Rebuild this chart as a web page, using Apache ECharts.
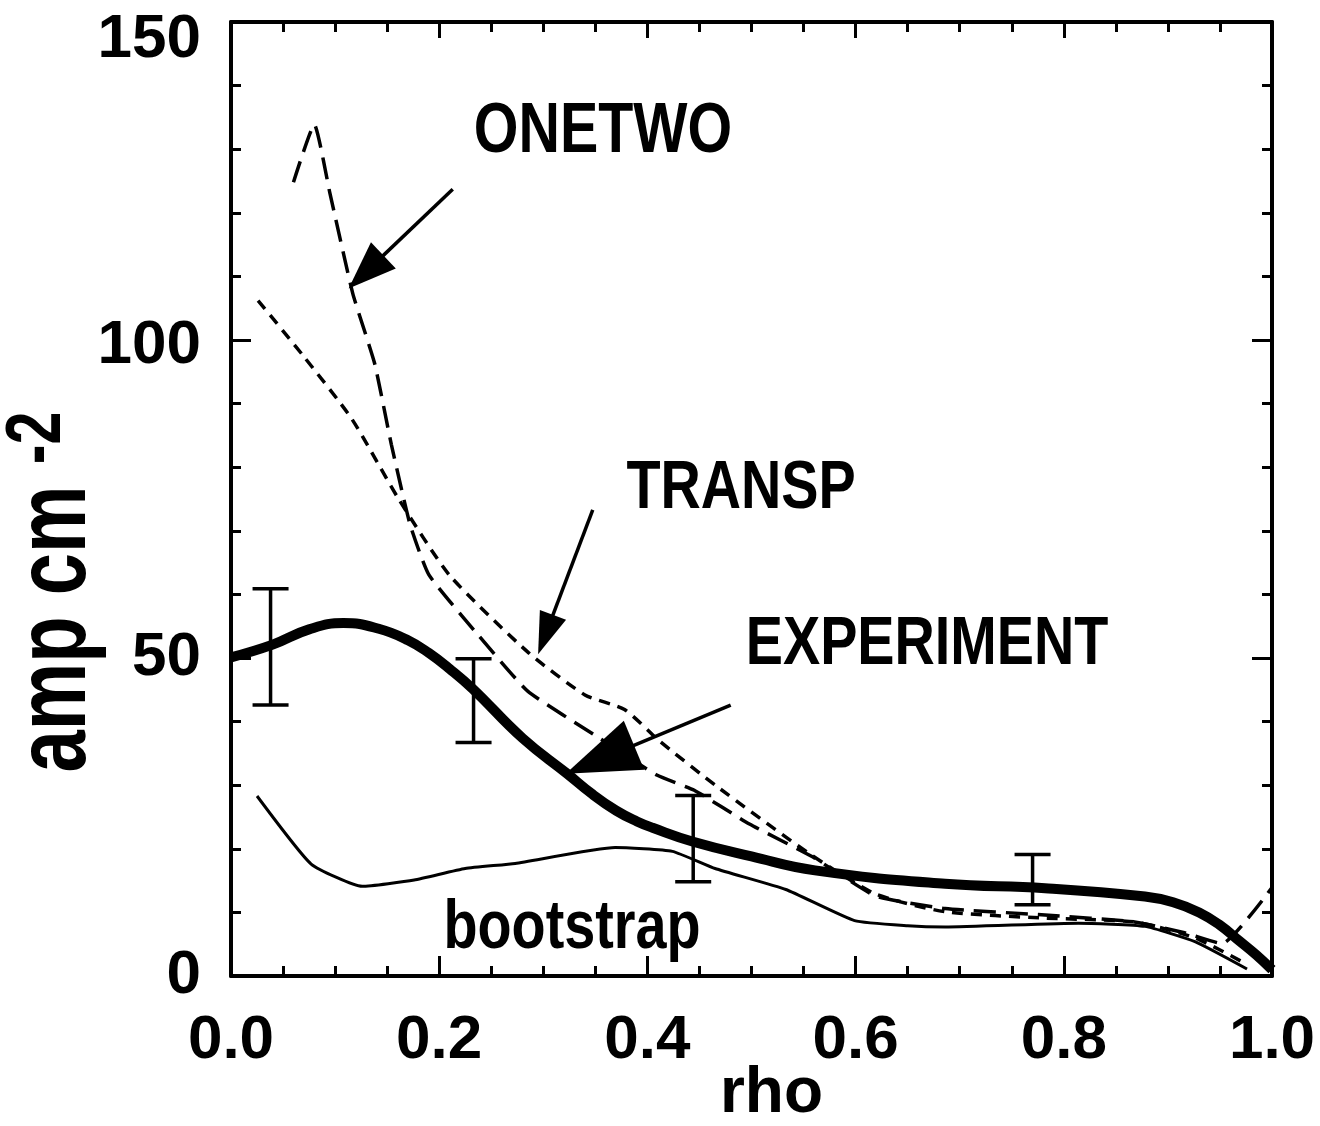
<!DOCTYPE html>
<html>
<head>
<meta charset="utf-8">
<script src="https://cdn.jsdelivr.net/npm/echarts@6/dist/echarts.min.js"></script>
<style>
  html, body { margin: 0; padding: 0; background: #fff; }
  #chart { width: 1320px; height: 1126px; }
</style>
</head>
<body>
<div id="chart"></div>
<script>
// Current density profiles versus normalised radius rho (amp cm^-2)
const expRho   = [0, 0.04, 0.075, 0.108, 0.142, 0.17, 0.19, 0.21, 0.232, 0.28, 0.323, 0.347, 0.37, 0.39, 0.405, 0.444, 0.50, 0.561, 0.686, 0.782, 0.878, 0.905, 0.93, 0.95, 0.968, 0.985, 1.0];
const expVal   = [50.1, 52.1, 54.5, 55.5, 54.6, 52.8, 50.8, 48.3, 45.2, 37.4, 31.8, 28.6, 26.0, 24.3, 23.3, 21.1, 18.8, 16.6, 14.5, 13.8, 12.5, 11.6, 10.0, 8.0, 5.6, 3.3, 1.0];

const bootRho  = [0.025, 0.077, 0.126, 0.176, 0.225, 0.273, 0.369, 0.424, 0.465, 0.533, 0.599, 0.65, 0.686, 0.814, 0.878, 0.926, 0.976];
const bootVal  = [28.3, 17.6, 14.1, 15.1, 16.9, 17.7, 20.2, 19.6, 16.9, 13.6, 8.7, 7.9, 7.7, 8.3, 7.8, 5.4, 1.1];

const onetwoRho = [0.060, 0.080, 0.095, 0.117, 0.138, 0.154, 0.172, 0.19, 0.238, 0.285, 0.352, 0.409, 0.445, 0.498, 0.559, 0.619, 0.686, 0.782, 0.868, 0.916, 0.952, 1.0];
const onetwoVal = [124.8, 133.9, 123.1, 107.3, 96.3, 83.6, 71.0, 63.1, 53.5, 44.8, 37.6, 31.6, 29.2, 23.9, 18.7, 12.6, 10.6, 9.6, 8.5, 6.8, 5.1, 13.9];

const transpRho = [0.026, 0.069, 0.116, 0.161, 0.21, 0.286, 0.34, 0.378, 0.412, 0.466, 0.555, 0.619, 0.686, 0.782, 0.868, 0.926, 0.974];
const transpVal = [106.2, 97.6, 87.6, 75.0, 63.0, 50.8, 44.2, 41.9, 36.9, 29.9, 19.3, 12.9, 10.1, 9.1, 8.5, 6.0, 2.0];

// Measured points: rho, lower and upper limit
const errRho  = [0.038, 0.233, 0.444, 0.77];
const errLow  = [42.6, 36.7, 14.8, 11.2];
const errHigh = [60.9, 49.9, 28.4, 19.1];

const xTicks = [0, 0.2, 0.4, 0.6, 0.8, 1.0];
const yTicks = [0, 50, 100, 150];

// Callout arrows: tail [rho, value] -> tip [rho, value]
const arrowTails = [[0.213, 123.7], [0.3475, 73.3], [0.48, 42.6]];
const arrowTips  = [[0.113, 108.1], [0.295, 50.6], [0.3215, 31.8]];
const arrowHeads = [[48, 36], [42, 28], [74, 53]]; // length, width in px

const FONT = "'Liberation Sans', Arial, sans-serif";
const NARROW = 0.82; // horizontal squeeze for the condensed lettering

const pairs = (xs, ys) => xs.map((x, i) => [x, ys[i]]);

const chart = echarts.init(document.getElementById('chart'), null, { renderer: 'canvas' });

const tickStyle = { color: '#000', width: 3 };
const baseX = {
  type: 'value', min: xTicks[0], max: xTicks[xTicks.length - 1], interval: 0.2,
  axisLine: { onZero: false, lineStyle: { color: '#000', width: 4 } },
  axisTick: { inside: true, length: 20, lineStyle: tickStyle },
  minorTick: { show: true, splitNumber: 4, length: 10, lineStyle: tickStyle },
  splitLine: { show: false }, minorSplitLine: { show: false }
};
const baseY = {
  type: 'value', min: yTicks[0], max: yTicks[yTicks.length - 1], interval: 50,
  axisLine: { onZero: false, lineStyle: { color: '#000', width: 4 } },
  axisTick: { inside: true, length: 20, lineStyle: tickStyle },
  minorTick: { show: true, splitNumber: 5, length: 10, lineStyle: tickStyle },
  splitLine: { show: false }, minorSplitLine: { show: false }
};

const tickFont = { fontSize: 62, fontWeight: 'bold', fontFamily: FONT, color: '#000' };

const label = (text, x, y, size) => ({
  type: 'text', x: x, y: y, scaleX: NARROW,
  style: { text: text, fontSize: size, fontWeight: 'bold', fontFamily: FONT, fill: '#000', align: 'center', verticalAlign: 'middle' }
});

const option = {
  animation: false,
  backgroundColor: '#fff',
  grid: { left: 231, top: 22, right: 48, bottom: 150, outerBoundsMode: 'none', containLabel: false },
  xAxis: [
    Object.assign({}, baseX, {
      position: 'bottom',
      axisLabel: Object.assign({ margin: 34, formatter: v => v.toFixed(1) }, tickFont),
      name: 'rho', nameLocation: 'middle', nameGap: 86, nameMoveOverlap: false,
      nameTextStyle: { fontSize: 64, fontWeight: 'bold', fontFamily: FONT, color: '#000', padding: [0, 0, 0, 40] }
    }),
    Object.assign({}, baseX, { position: 'top', axisLabel: { show: false },
      axisTick: { inside: true, length: 16, lineStyle: tickStyle } })
  ],
  yAxis: [
    Object.assign({}, baseY, {
      position: 'left',
      axisLabel: Object.assign({
        margin: 30,
        // the upper labels sit a little lower than their ticks
        formatter: v => v === 150 ? '{t|150}' : v === 100 ? '{m|100}' : String(v),
        rich: {
          t: Object.assign({ padding: [36, 0, 0, 0] }, tickFont),
          m: Object.assign({ padding: [12, 0, 0, 0] }, tickFont)
        }
      }, tickFont)
    }),
    Object.assign({}, baseY, { position: 'right', axisLabel: { show: false } })
  ],
  graphic: [
    {
      type: 'text', x: 57, y: 592, rotation: Math.PI / 2, scaleX: 0.76,
      style: {
        text: '{a|amp cm }{s|-2}', align: 'center', verticalAlign: 'middle',
        rich: {
          a: { fontSize: 100, fontWeight: 'bold', fontFamily: FONT, fill: '#000', verticalAlign: 'bottom', lineHeight: 100 },
          s: { fontSize: 78, fontWeight: 'bold', fontFamily: FONT, fill: '#000', verticalAlign: 'bottom', lineHeight: 78, padding: [0, 0, 30, 0] }
        }
      }
    },
    label('ONETWO', 603, 133, 70),
    label('TRANSP', 741, 489, 68),
    label('EXPERIMENT', 927, 645, 68),
    label('bootstrap', 572, 929, 68)
  ],
  series: [
    {
      name: 'EXPERIMENT', type: 'line', data: pairs(expRho, expVal), smooth: 0.45,
      showSymbol: false, lineStyle: { color: '#000', width: 10, cap: 'butt' }, z: 5
    },
    {
      name: 'bootstrap', type: 'line', data: pairs(bootRho, bootVal), smooth: 0.15,
      showSymbol: false, lineStyle: { color: '#000', width: 3 }
    },
    {
      name: 'ONETWO', type: 'line', data: pairs(onetwoRho, onetwoVal), smooth: 0.15,
      showSymbol: false, lineStyle: { color: '#000', width: 3.5, type: [22, 10] }
    },
    {
      name: 'TRANSP', type: 'line', data: pairs(transpRho, transpVal), smooth: 0.2,
      showSymbol: false, lineStyle: { color: '#000', width: 3.5, type: [11, 8] }
    },
    {
      name: 'error', type: 'custom',
      data: errRho.map((r, i) => [r, errLow[i], errHigh[i]]),
      renderItem: (params, api) => {
        const top = api.coord([api.value(0), api.value(2)]);
        const bot = api.coord([api.value(0), api.value(1)]);
        const hw = 18;
        const st = { stroke: '#000', lineWidth: 3.5 };
        return {
          type: 'group', children: [
            { type: 'line', shape: { x1: top[0], y1: top[1], x2: bot[0], y2: bot[1] }, style: st },
            { type: 'line', shape: { x1: top[0] - hw, y1: top[1], x2: top[0] + hw, y2: top[1] }, style: st },
            { type: 'line', shape: { x1: bot[0] - hw, y1: bot[1], x2: bot[0] + hw, y2: bot[1] }, style: st }
          ]
        };
      }, z: 6
    },
    {
      name: 'callouts', type: 'custom',
      data: arrowTails.map((t, i) => [t[0], t[1], arrowTips[i][0], arrowTips[i][1], i]),
      renderItem: (params, api) => {
        const tail = api.coord([api.value(0), api.value(1)]);
        const tip = api.coord([api.value(2), api.value(3)]);
        const head = arrowHeads[api.value(4)];
        const dx = tip[0] - tail[0], dy = tip[1] - tail[1];
        const len = Math.hypot(dx, dy);
        const ux = dx / len, uy = dy / len;
        const bx = tip[0] - ux * head[0], by = tip[1] - uy * head[0];
        const nx = -uy * head[1] / 2, ny = ux * head[1] / 2;
        return {
          type: 'group', children: [
            { type: 'line', shape: { x1: tail[0], y1: tail[1], x2: bx + ux * 4, y2: by + uy * 4 },
              style: { stroke: '#000', lineWidth: 3.5 } },
            { type: 'polygon', shape: { points: [[tip[0], tip[1]], [bx + nx, by + ny], [bx - nx, by - ny]] },
              style: { fill: '#000' } }
          ]
        };
      }, z: 7
    }
  ]
};

chart.setOption(option);
</script>
</body>
</html>
